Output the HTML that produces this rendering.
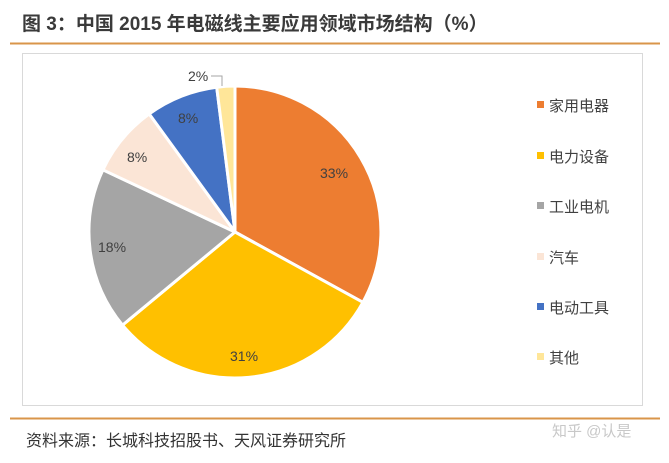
<!DOCTYPE html>
<html><head><meta charset="utf-8"><style>
body{margin:0;background:#fff;width:669px;height:458px;overflow:hidden;font-family:"Liberation Sans","Noto Sans CJK SC",sans-serif;}
</style></head><body>
<svg width="669" height="458" xmlns="http://www.w3.org/2000/svg" font-family="Liberation Sans, Noto Sans CJK SC, sans-serif">
<text x="22" y="30" font-size="19" font-weight="bold" fill="#3a3a3a">图 3：中国 2015 年电磁线主要应用领域市场结构（%）</text>
<line x1="10" y1="43.5" x2="660" y2="43.5" stroke="#d9954a" stroke-width="2"/>
<rect x="22.5" y="53.5" width="620" height="352" fill="#fff" stroke="#d9d9d9"/>
<g stroke="#fff" stroke-width="3" stroke-linejoin="round">
<path d="M235,232 L235,86 A146,146 0 0 1 362.9,302.3 Z" fill="#ed7d31"/>
<path d="M235,232 L362.9,302.3 A146,146 0 0 1 122.5,325.1 Z" fill="#ffc000"/>
<path d="M235,232 L122.5,325.1 A146,146 0 0 1 102.9,169.8 Z" fill="#a5a5a5"/>
<path d="M235,232 L102.9,169.8 A146,146 0 0 1 149.2,113.9 Z" fill="#fbe5d6"/>
<path d="M235,232 L149.2,113.9 A146,146 0 0 1 216.7,87.2 Z" fill="#4472c4"/>
<path d="M235,232 L216.7,87.2 A146,146 0 0 1 235,86 Z" fill="#ffe699"/>
</g>
<g font-size="14" fill="#404040">
<text x="320" y="178">33%</text>
<text x="230" y="361">31%</text>
<text x="98" y="252">18%</text>
<text x="127" y="162">8%</text>
<text x="178" y="123">8%</text>
<text x="188" y="81">2%</text>
</g>
<polyline points="211,76 222,76 222,86" fill="none" stroke="#a6a6a6" stroke-width="1"/>
<g font-size="15" fill="#404040">
<rect x="537" y="101" width="7" height="7" fill="#ed7d31"/><text x="549" y="111">家用电器</text>
<rect x="537" y="152" width="7" height="7" fill="#ffc000"/><text x="549" y="162">电力设备</text>
<rect x="537" y="202" width="7" height="7" fill="#a5a5a5"/><text x="549" y="212">工业电机</text>
<rect x="537" y="253" width="7" height="7" fill="#fbe5d6"/><text x="549" y="263">汽车</text>
<rect x="537" y="303" width="7" height="7" fill="#4472c4"/><text x="549" y="313">电动工具</text>
<rect x="537" y="353" width="7" height="7" fill="#ffe699"/><text x="549" y="363">其他</text>
</g>
<line x1="10" y1="418.5" x2="660" y2="418.5" stroke="#d9954a" stroke-width="2"/>
<text x="26" y="446" font-size="16" fill="#333">资料来源：长城科技招股书、天风证券研究所</text>
<text x="552" y="436" font-size="15" fill="#c8c8c8">知乎 @认是</text>
</svg>
</body></html>
